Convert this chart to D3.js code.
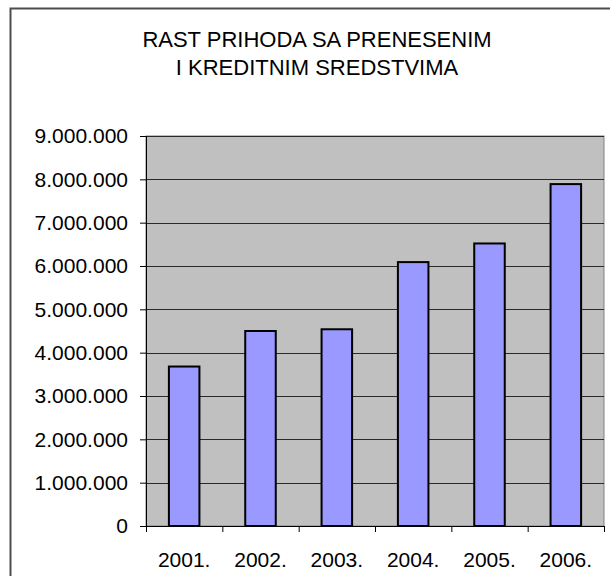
<!DOCTYPE html>
<html>
<head>
<meta charset="utf-8">
<script src="https://cdn.jsdelivr.net/npm/d3@7"></script>
<style>
  body { margin: 0; background: #fff; }
  text { font-family: "Liberation Sans", Arial, sans-serif; fill: #000; }
</style>
</head>
<body>
<svg class="svgChart"></svg>
<script>
// chart data
const years = ['2001.', '2002.', '2003.', '2004.', '2005.', '2006.'];
const values = [3680000, 4500000, 4540000, 6090000, 6520000, 7890000];
const yTicks = [0, 1000000, 2000000, 3000000, 4000000, 5000000, 6000000, 7000000, 8000000, 9000000];
const titleLines = ['RAST PRIHODA SA PRENESENIM', 'I KREDITNIM SREDSTVIMA'];

const W = 610, H = 576;
const margin = { top: 136, right: 6, bottom: 50, left: 146 };
const width = W - margin.left - margin.right;
const height = H - margin.top - margin.bottom;

const svg = d3.select('.svgChart')
  .attr('width', W)
  .attr('height', H);

// outer chart border (runs off the right and bottom edges)
svg.append('rect')
  .attr('x', 10.5)
  .attr('y', 8.5)
  .attr('width', 640)
  .attr('height', 640)
  .attr('fill', '#fff')
  .attr('stroke', '#4d4d4d')
  .attr('stroke-width', 2);

// title
svg.append('g')
  .attr('class', 'chartTitle')
  .selectAll('text')
  .data(titleLines)
  .enter()
  .append('text')
    .attr('x', 317)
    .attr('y', (d, i) => 47 + i * 28)
    .attr('text-anchor', 'middle')
    .attr('font-size', 22)
    .text(d => d);

const g = svg.append('g')
  .attr('transform', `translate(${margin.left}, ${margin.top})`);

const xScale = d3.scaleBand()
  .domain(years)
  .range([0, width])
  .paddingInner(0.6)
  .paddingOuter(0.3);

const yScale = d3.scaleLinear()
  .domain([0, 9000000])
  .range([height, 0]);

// plot area
g.append('rect')
  .attr('width', width)
  .attr('height', height)
  .attr('fill', '#c0c0c0')
  .attr('stroke', '#808080')
  .attr('stroke-width', 1);

// gridlines
g.append('g')
  .attr('class', 'grid')
  .selectAll('line')
  .data(yTicks.slice(1))
  .enter()
  .append('line')
    .attr('x1', 0)
    .attr('x2', width)
    .attr('y1', d => Math.round(yScale(d)) + 0.5)
    .attr('y2', d => Math.round(yScale(d)) + 0.5)
    .attr('stroke', '#2a2a2a')
    .attr('stroke-width', 1.2);

// bars
g.append('g')
  .attr('class', 'chart')
  .selectAll('rect')
  .data(values)
  .enter()
  .append('rect')
    .attr('x', (d, i) => xScale(years[i]))
    .attr('y', d => yScale(d))
    .attr('width', xScale.bandwidth())
    .attr('height', d => height - yScale(d))
    .attr('fill', '#9999ff')
    .attr('stroke', '#000')
    .attr('stroke-width', 2);

// y axis
const locale = d3.formatLocale({ decimal: ',', thousands: '.', grouping: [3], currency: ['', ''] });
const yAxis = d3.axisLeft(yScale)
  .tickValues(yTicks)
  .tickFormat(locale.format(',.0f'))
  .tickSize(6)
  .tickPadding(12);

g.append('g')
  .attr('class', 'yAxis')
  .call(yAxis)
  .call(s => s.selectAll('text').attr('font-size', 21).attr('font-family', null));

// x axis: ticks sit on the category boundaries
const boundary = d3.scaleLinear()
  .domain([0, years.length])
  .range([0, width]);

g.append('g')
  .attr('class', 'xTicks')
  .attr('transform', `translate(0, ${height})`)
  .call(d3.axisBottom(boundary).ticks(years.length).tickSize(6).tickFormat(''));

g.append('g')
  .attr('class', 'xAxis')
  .attr('transform', `translate(0, ${height})`)
  .call(d3.axisBottom(xScale).tickSize(0).tickPadding(26))
  .call(s => s.select('.domain').remove())
  .call(s => s.selectAll('text').attr('font-size', 21).attr('font-family', null));

svg.selectAll('.domain, .tick line').attr('stroke', '#000');
</script>
</body>
</html>
